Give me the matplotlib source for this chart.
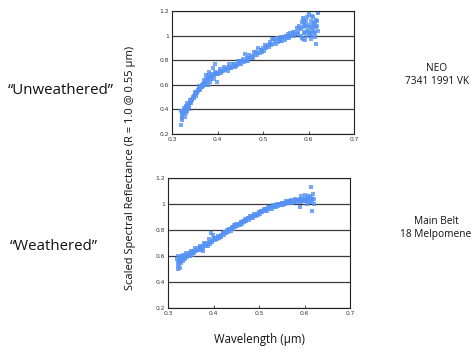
import matplotlib
matplotlib.use("Agg")
import matplotlib.pyplot as plt

# ---------------- data ----------------
# NEO 7341 1991 VK ("Unweathered")
neo_x_a = [0.320, 0.325, 0.330, 0.335, 0.340, 0.345, 0.350, 0.355, 0.360, 0.365,
           0.370, 0.375, 0.380, 0.385, 0.390, 0.395, 0.400, 0.405, 0.410, 0.415,
           0.420, 0.425, 0.430, 0.435, 0.440, 0.445, 0.450, 0.455, 0.460, 0.465,
           0.470, 0.475, 0.480, 0.485, 0.490, 0.495, 0.500, 0.505, 0.510, 0.515,
           0.520, 0.525, 0.530, 0.535, 0.540, 0.545, 0.550, 0.555, 0.560, 0.565,
           0.570, 0.575, 0.580, 0.585, 0.590, 0.595, 0.600, 0.605, 0.610, 0.615, 0.620]
neo_y_a = [0.39, 0.36, 0.43, 0.42, 0.48, 0.48, 0.54, 0.535, 0.59, 0.58,
           0.64, 0.65, 0.68, 0.645, 0.74, 0.70, 0.69, 0.73, 0.71, 0.745,
           0.74, 0.77, 0.74, 0.77, 0.75, 0.795, 0.795, 0.81, 0.85, 0.82,
           0.84, 0.825, 0.865, 0.865, 0.895, 0.885, 0.90, 0.92, 0.925, 0.945,
           0.97, 0.97, 0.98, 0.975, 0.99, 0.99, 1.00, 1.015, 1.02, 1.03,
           1.03, 1.06, 1.08, 1.11, 1.13, 1.09, 1.17, 1.12, 1.15, 1.11, 1.18]
neo_x_b = [0.3225, 0.3275, 0.3325, 0.3375, 0.3425, 0.3475, 0.3525, 0.3575, 0.3625, 0.3675,
           0.3725, 0.3775, 0.3825, 0.3875, 0.3925, 0.3975, 0.4025, 0.4075, 0.4125, 0.4175,
           0.4225, 0.4275, 0.4325, 0.4375, 0.4425, 0.4475, 0.4525, 0.4575, 0.4625, 0.4675,
           0.4725, 0.4775, 0.4825, 0.4875, 0.4925, 0.4975, 0.5025, 0.5075, 0.5125, 0.5175,
           0.5225, 0.5275, 0.5325, 0.5375, 0.5425, 0.5475, 0.5525, 0.5575, 0.5625, 0.5675,
           0.5725, 0.5775, 0.5825, 0.5875, 0.5925, 0.5975, 0.6025, 0.6075, 0.6125, 0.6175]
neo_y_b = [0.33, 0.38, 0.385, 0.425, 0.455, 0.495, 0.51, 0.55, 0.56, 0.59,
           0.60, 0.63, 0.625, 0.66, 0.645, 0.685, 0.695, 0.695, 0.71, 0.72,
           0.715, 0.735, 0.745, 0.745, 0.76, 0.77, 0.77, 0.785, 0.795, 0.795,
           0.82, 0.82, 0.84, 0.84, 0.86, 0.87, 0.875, 0.90, 0.91, 0.92,
           0.935, 0.935, 0.95, 0.958, 0.955, 0.965, 0.98, 0.978, 0.995, 0.995,
           1.015, 1.015, 1.00, 0.975, 1.03, 1.00, 1.025, 1.00, 1.03, 0.935]
neo_x_c = [0.3213, 0.3238, 0.3263, 0.3288, 0.3313, 0.3338, 0.3363, 0.3388, 0.3413, 0.3438,
           0.3463, 0.3488, 0.3513, 0.3538, 0.3563, 0.3588, 0.3613, 0.3638, 0.3663, 0.3688,
           0.3713, 0.3738, 0.3763, 0.3788, 0.3813, 0.3838, 0.3863, 0.3888, 0.3913, 0.3938,
           0.3963, 0.3988, 0.4063, 0.4163, 0.4263, 0.4363, 0.4463, 0.4563, 0.4663, 0.4763,
           0.4863, 0.4963, 0.5063, 0.5163, 0.5263, 0.5363, 0.5463, 0.5563, 0.5663, 0.5763]
neo_y_c = [0.37, 0.37, 0.39, 0.40, 0.41, 0.43, 0.44, 0.455, 0.47, 0.485,
           0.50, 0.51, 0.525, 0.54, 0.555, 0.565, 0.575, 0.585, 0.595, 0.605,
           0.615, 0.625, 0.635, 0.645, 0.655, 0.66, 0.67, 0.675, 0.68, 0.685,
           0.69, 0.695, 0.715, 0.725, 0.745, 0.765, 0.78, 0.79, 0.815, 0.835,
           0.855, 0.88, 0.905, 0.93, 0.955, 0.965, 0.985, 0.998, 1.013, 1.033]
neo_x_d = [0.320, 0.321, 0.323, 0.326, 0.328, 0.331, 0.334, 0.338, 0.375, 0.378,
           0.382, 0.386, 0.395, 0.398, 0.580, 0.585, 0.588, 0.590, 0.592, 0.595,
           0.598, 0.600, 0.603, 0.605, 0.607, 0.610, 0.612, 0.615, 0.617, 0.620,
           0.620, 0.618, 0.583, 0.596, 0.609, 0.614, 0.587, 0.593, 0.601, 0.606,
           0.611, 0.616, 0.619, 0.589, 0.597, 0.604]
neo_y_d = [0.27, 0.31, 0.35, 0.41, 0.34, 0.37, 0.45, 0.40, 0.68, 0.60,
           0.70, 0.69, 0.77, 0.62, 1.06, 0.98, 1.14, 1.02, 0.96, 1.12,
           1.07, 1.19, 1.09, 0.97, 1.16, 1.04, 1.10, 0.99, 1.13, 1.04,
           1.19, 1.08, 1.05, 1.04, 1.07, 1.02, 1.07, 1.08, 1.03, 1.06,
           1.09, 1.07, 1.12, 1.10, 1.15, 1.01]

# Main Belt 18 Melpomene ("Weathered")
mb_x_a = neo_x_a
mb_y_a = [0.58, 0.54, 0.60, 0.585, 0.62, 0.61, 0.64, 0.63, 0.66, 0.65,
          0.68, 0.67, 0.70, 0.69, 0.73, 0.71, 0.74, 0.73, 0.755, 0.75,
          0.78, 0.785, 0.80, 0.81, 0.82, 0.835, 0.845, 0.85, 0.865, 0.87,
          0.885, 0.89, 0.905, 0.91, 0.92, 0.925, 0.94, 0.945, 0.96, 0.96,
          0.975, 0.975, 0.99, 0.99, 1.00, 1.00, 1.01, 1.01, 1.02, 1.02,
          1.03, 1.025, 1.035, 1.03, 1.04, 1.04, 1.04, 1.045, 1.05, 1.045, 1.04]
mb_x_b = neo_x_b
mb_y_b = [0.52, 0.55, 0.56, 0.575, 0.59, 0.60, 0.61, 0.62, 0.635, 0.645,
          0.65, 0.665, 0.675, 0.68, 0.695, 0.705, 0.72, 0.73, 0.74, 0.75,
          0.765, 0.775, 0.785, 0.795, 0.81, 0.82, 0.83, 0.84, 0.85, 0.86,
          0.87, 0.88, 0.89, 0.895, 0.905, 0.915, 0.925, 0.935, 0.945, 0.95,
          0.96, 0.965, 0.975, 0.98, 0.985, 0.99, 0.995, 1.00, 1.005, 1.01,
          1.01, 1.015, 1.015, 1.02, 1.015, 1.02, 1.02, 1.02, 1.015, 1.02]
mb_x_c = [0.3213, 0.3263, 0.3313, 0.3363, 0.3413, 0.3463, 0.3513, 0.3563, 0.3613, 0.3663,
          0.3713, 0.3763, 0.3813, 0.3863, 0.3913, 0.3963, 0.4013, 0.4063, 0.4113, 0.4163,
          0.4213, 0.4263, 0.4313, 0.4363, 0.4413, 0.4463, 0.4513, 0.4563, 0.4613, 0.4663,
          0.4713, 0.4763, 0.4813, 0.4863, 0.4913, 0.4963, 0.5013, 0.5063, 0.5113, 0.5163,
          0.5213, 0.5263, 0.5313, 0.5363, 0.5413, 0.5463, 0.5513, 0.5563, 0.5613, 0.5663,
          0.5713, 0.5763, 0.5813, 0.5863, 0.5913, 0.5963, 0.6013, 0.6063, 0.6113, 0.6163]
mb_y_c = [0.555, 0.565, 0.58, 0.595, 0.605, 0.62, 0.63, 0.64, 0.65, 0.66,
          0.67, 0.68, 0.69, 0.70, 0.71, 0.72, 0.73, 0.74, 0.75, 0.76,
          0.775, 0.785, 0.795, 0.805, 0.815, 0.83, 0.84, 0.85, 0.86, 0.87,
          0.88, 0.89, 0.90, 0.91, 0.915, 0.925, 0.935, 0.945, 0.955, 0.96,
          0.97, 0.975, 0.985, 0.99, 0.995, 1.00, 1.005, 1.01, 1.015, 1.02,
          1.025, 1.022, 1.028, 1.028, 1.032, 1.032, 1.032, 1.037, 1.037, 1.037]
mb_x_d = [0.321, 0.322, 0.324, 0.327, 0.329, 0.333, 0.395, 0.398, 0.378, 0.590,
          0.592, 0.600, 0.615, 0.617, 0.618, 0.620, 0.612, 0.605, 0.608]
mb_y_d = [0.50, 0.60, 0.57, 0.51, 0.59, 0.61, 0.78, 0.76, 0.64, 0.98,
          1.06, 1.07, 1.13, 0.95, 1.08, 1.00, 1.06, 1.00, 1.06]

x_ticks = [0.3, 0.4, 0.5, 0.6, 0.7]
x_tick_labels = ["0.3", "0.4", "0.5", "0.6", "0.7"]
y_ticks = [0.2, 0.4, 0.6, 0.8, 1.0, 1.2]
y_tick_labels = ["0.2", "0.4", "0.6", "0.8", "1", "1.2"]

point_color = "#5592f5"
txt_font = ["Open Sans", "DejaVu Sans"]

fig = plt.figure(figsize=(4.77, 3.54), dpi=100)
fig.patch.set_facecolor("white")

ax_top = fig.add_axes([0.3606, 0.6215, 0.3816, 0.3475])
ax_bot = fig.add_axes([0.3522, 0.130, 0.3816, 0.367])

def style(ax):
    ax.set_xlim(0.3, 0.7)
    ax.set_ylim(0.2, 1.2)
    ax.set_xticks(x_ticks)
    ax.set_xticklabels(x_tick_labels)
    ax.set_yticks(y_ticks)
    ax.set_yticklabels(y_tick_labels)
    ax.tick_params(axis="both", labelsize=4.3, length=2, width=0.6, pad=2,
                   colors="#333333", direction="in")
    ax.tick_params(axis="y", length=0)
    for lbl in ax.get_xticklabels() + ax.get_yticklabels():
        lbl.set_color("#333333")
    ax.yaxis.grid(True, color="#3a3a3a", linewidth=0.9)
    ax.set_axisbelow(True)
    for s in ax.spines.values():
        s.set_color("#222222")
        s.set_linewidth(0.8)

def draw(ax, xs, ys):
    for x, y in zip(xs, ys):
        ax.plot(x, y, linestyle="none", marker="s", markersize=2.6,
                markeredgewidth=0, color=point_color, alpha=0.8)

style(ax_top)
style(ax_bot)

draw(ax_top, neo_x_a, neo_y_a)
draw(ax_top, neo_x_b, neo_y_b)
draw(ax_top, neo_x_c, neo_y_c)
draw(ax_top, neo_x_d, neo_y_d)

draw(ax_bot, mb_x_a, mb_y_a)
draw(ax_bot, mb_x_b, mb_y_b)
draw(ax_bot, mb_x_c, mb_y_c)
draw(ax_bot, mb_x_d, mb_y_d)

fig.text(61 / 477, 1 - 91 / 354, "\u201cUnweathered\u201d", ha="center", va="center",
         fontsize=10.8, family=txt_font, color="#111111")
fig.text(54 / 477, 1 - 246 / 354, "\u201cWeathered\u201d", ha="center", va="center",
         fontsize=10.8, family=txt_font, color="#111111")
fig.text(437 / 477, 1 - 75 / 354, "NEO\n7341 1991 VK", ha="center", va="center",
         fontsize=7.3, family=txt_font, color="#111111", linespacing=1.3)
fig.text(436 / 477, 1 - 228 / 354, "Main Belt\n18 Melpomene", ha="center", va="center",
         fontsize=7.3, family=txt_font, color="#111111", linespacing=1.3)
fig.text(131 / 477, 1 - 168 / 354, "Scaled Spectral Reflectance (R = 1.0 @ 0.55 \u00b5m)",
         rotation=90, ha="center", va="center", fontsize=8.0, family=txt_font,
         color="#111111")
fig.text(259 / 477, 1 - 340 / 354, "Wavelength (\u00b5m)", ha="center", va="center",
         fontsize=8.3, family=txt_font, color="#111111")

fig.savefig("out.png", dpi=100, facecolor="white")
